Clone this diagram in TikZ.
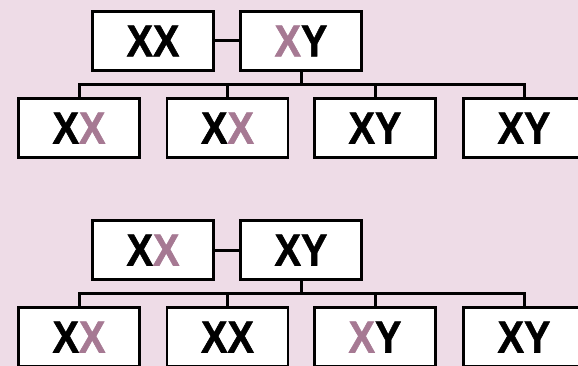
\documentclass[tikz,border=0pt]{standalone}
\usepackage{fontspec}
\setmainfont{Liberation Sans}
\newfontfamily\genefont[UprightFont={* Bold}, FakeStretch=0.88, FakeBold=1.2]{Liberation Sans}
\definecolor{bgpink}{RGB}{238,220,231}
\definecolor{mauve}{RGB}{166,121,147}
\tikzset{
  gene/.style={draw=black, fill=white, line width=2.6pt, rectangle,
    minimum width=121pt, minimum height=59pt, inner sep=0pt,
    font=\genefont\fontsize{45}{45}\selectfont},
  tie/.style={draw=black, line width=3pt}
}
\newcommand{\mx}{\textcolor{mauve}{X}}
\begin{document}
\begin{tikzpicture}[x=1pt, y=-1pt]
  \clip (0,0) rectangle (578,366);
  \fill[bgpink] (0,0) rectangle (578,366);
  \useasboundingbox (0,0) rectangle (578,366);

  % first family
  \node[gene] (pa1) at (153,41) {XX};
  \node[gene] (pb1) at (301,41) {\mx Y};
  \node[gene] (ca1) at (79,128) {X\mx};
  \node[gene] (cb1) at (227.5,128) {X\mx};
  \node[gene] (cc1) at (375,128) {XY};
  \node[gene] (cd1) at (524,128) {XY};
  \coordinate (bus1) at (301,85);
  \draw[tie] (pa1.east) -- (pb1.west);
  \draw[tie] (pb1.south) -- (bus1);
  \draw[tie] (ca1.north) |- (bus1) -| (cd1.north);
  \draw[tie] (cb1.north) -- (cb1.north |- bus1);
  \draw[tie] (cc1.north) -- (cc1.north |- bus1);

  % second family
  \node[gene] (pa2) at (153,250) {X\mx};
  \node[gene] (pb2) at (301,250) {XY};
  \node[gene] (ca2) at (79,337) {X\mx};
  \node[gene] (cb2) at (227.5,337) {XX};
  \node[gene] (cc2) at (375,337) {\mx Y};
  \node[gene] (cd2) at (524,337) {XY};
  \coordinate (bus2) at (301,293);
  \draw[tie] (pa2.east) -- (pb2.west);
  \draw[tie] (pb2.south) -- (bus2);
  \draw[tie] (ca2.north) |- (bus2) -| (cd2.north);
  \draw[tie] (cb2.north) -- (cb2.north |- bus2);
  \draw[tie] (cc2.north) -- (cc2.north |- bus2);
\end{tikzpicture}
\end{document}
